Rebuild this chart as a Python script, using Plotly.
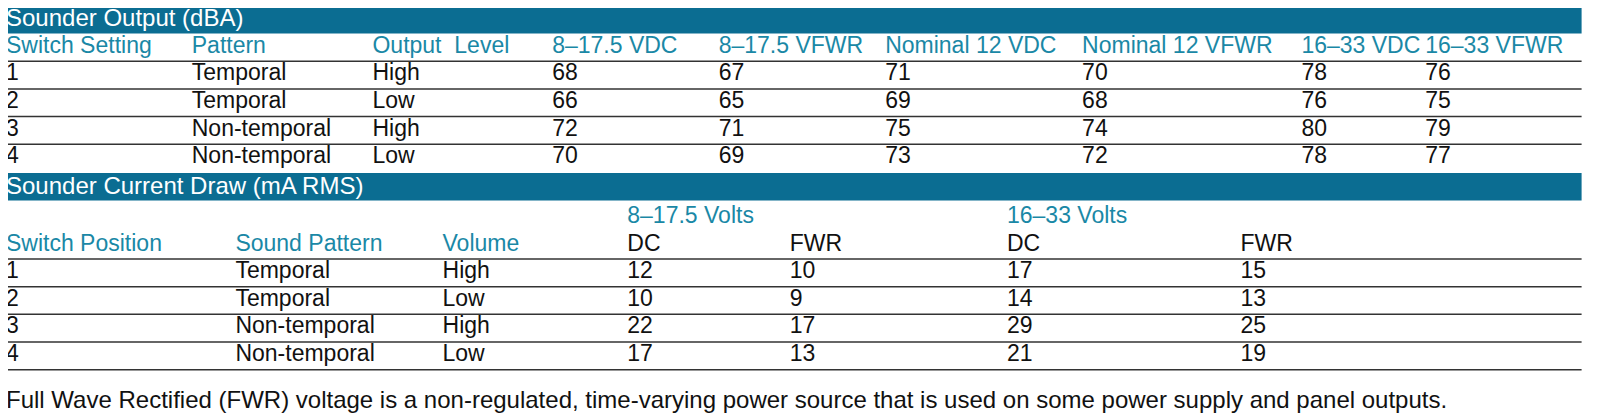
import plotly.graph_objects as go

# Table 1: Sounder Output (dBA)
t1_headers = ["Switch Setting", "Pattern", "Output  Level", "8–17.5 VDC", "8–17.5 VFWR",
              "Nominal 12 VDC", "Nominal 12 VFWR", "16–33 VDC", "16–33 VFWR"]
t1_switch = ["1", "2", "3", "4"]
t1_pattern = ["Temporal", "Temporal", "Non-temporal", "Non-temporal"]
t1_level = ["High", "Low", "High", "Low"]
t1_vdc8 = [68, 66, 72, 70]
t1_vfwr8 = [67, 65, 71, 69]
t1_vdc12 = [71, 69, 75, 73]
t1_vfwr12 = [70, 68, 74, 72]
t1_vdc16 = [78, 76, 80, 78]
t1_vfwr16 = [76, 75, 79, 77]

# Table 2: Sounder Current Draw (mA RMS)
t2_groups = ["8–17.5 Volts", "16–33 Volts"]
t2_headers = ["Switch Position", "Sound Pattern", "Volume", "DC", "FWR", "DC", "FWR"]
t2_switch = ["1", "2", "3", "4"]
t2_pattern = ["Temporal", "Temporal", "Non-temporal", "Non-temporal"]
t2_volume = ["High", "Low", "High", "Low"]
t2_dc8 = [12, 10, 22, 17]
t2_fwr8 = [10, 9, 17, 13]
t2_dc16 = [17, 14, 29, 21]
t2_fwr16 = [15, 13, 25, 19]

footnote = ("Full Wave Rectified (FWR) voltage is a non-regulated, time-varying power source "
            "that is used on some power supply and panel outputs.")

BANNER = "#0b6d92"
TEAL = "#1a88a6"
FONT = "Liberation Sans, Arial, sans-serif"
X0, X1 = 8, 1558

fig = go.Figure()

def text_row(xs, y, labels, color="#111", size=23):
    fig.add_trace(go.Scatter(x=[x - 4 for x in xs], y=[y] * len(xs), text=labels, mode="text",
                             textposition="middle right", hoverinfo="skip",
                             textfont=dict(family=FONT, size=size, color=color)))

def banner(y0, y1, label):
    fig.add_shape(type="rect", x0=X0, x1=X1, y0=y0, y1=y1, fillcolor=BANNER, line_width=0, layer="below")
    text_row([X0 + 2], (y0 + y1) / 2 + 1, [label], color="white", size=24)

def rule(y):
    fig.add_shape(type="line", x0=X0, x1=X1, y0=y, y1=y, line=dict(color="#333", width=1.5))

# --- table 1
t1_x = [10, 193, 371, 548, 712, 876, 1070, 1286, 1408]
banner(4, 33, "Sounder Output (dBA)")
text_row(t1_x, 46, t1_headers, color=TEAL)
rule(60)
for i in range(4):
    y = 73 + 27 * i
    vals = [t1_switch[i], t1_pattern[i], t1_level[i], t1_vdc8[i], t1_vfwr8[i],
            t1_vdc12[i], t1_vfwr12[i], t1_vdc16[i], t1_vfwr16[i]]
    text_row(t1_x, y, [str(v) for v in vals])
    if i < 3:
        rule(y + 14)

# --- table 2
banner(169, 196, "Sounder Current Draw (mA RMS)")
text_row([622, 996], 212, t2_groups, color=TEAL)
text_row([10, 236, 440], 240, t2_headers[:3], color=TEAL)
t2_x = [10, 236, 440, 622, 782, 996, 1226]
text_row(t2_x[3:], 240, t2_headers[3:])
rule(253)
for i in range(4):
    y = 266 + 27 * i
    vals = [t2_switch[i], t2_pattern[i], t2_volume[i], t2_dc8[i], t2_fwr8[i], t2_dc16[i], t2_fwr16[i]]
    text_row(t2_x, y, [str(v) for v in vals])
    rule(y + 14)

text_row([10], 393, [footnote], size=24)

fig.update_layout(
    width=1600, height=417, margin=dict(l=0, r=0, t=0, b=0),
    paper_bgcolor="white", plot_bgcolor="white", showlegend=False,
    xaxis=dict(range=[8, 1584], visible=False, fixedrange=True),
    yaxis=dict(range=[415, 8], visible=False, fixedrange=True),
)
fig.write_html("out.html")
